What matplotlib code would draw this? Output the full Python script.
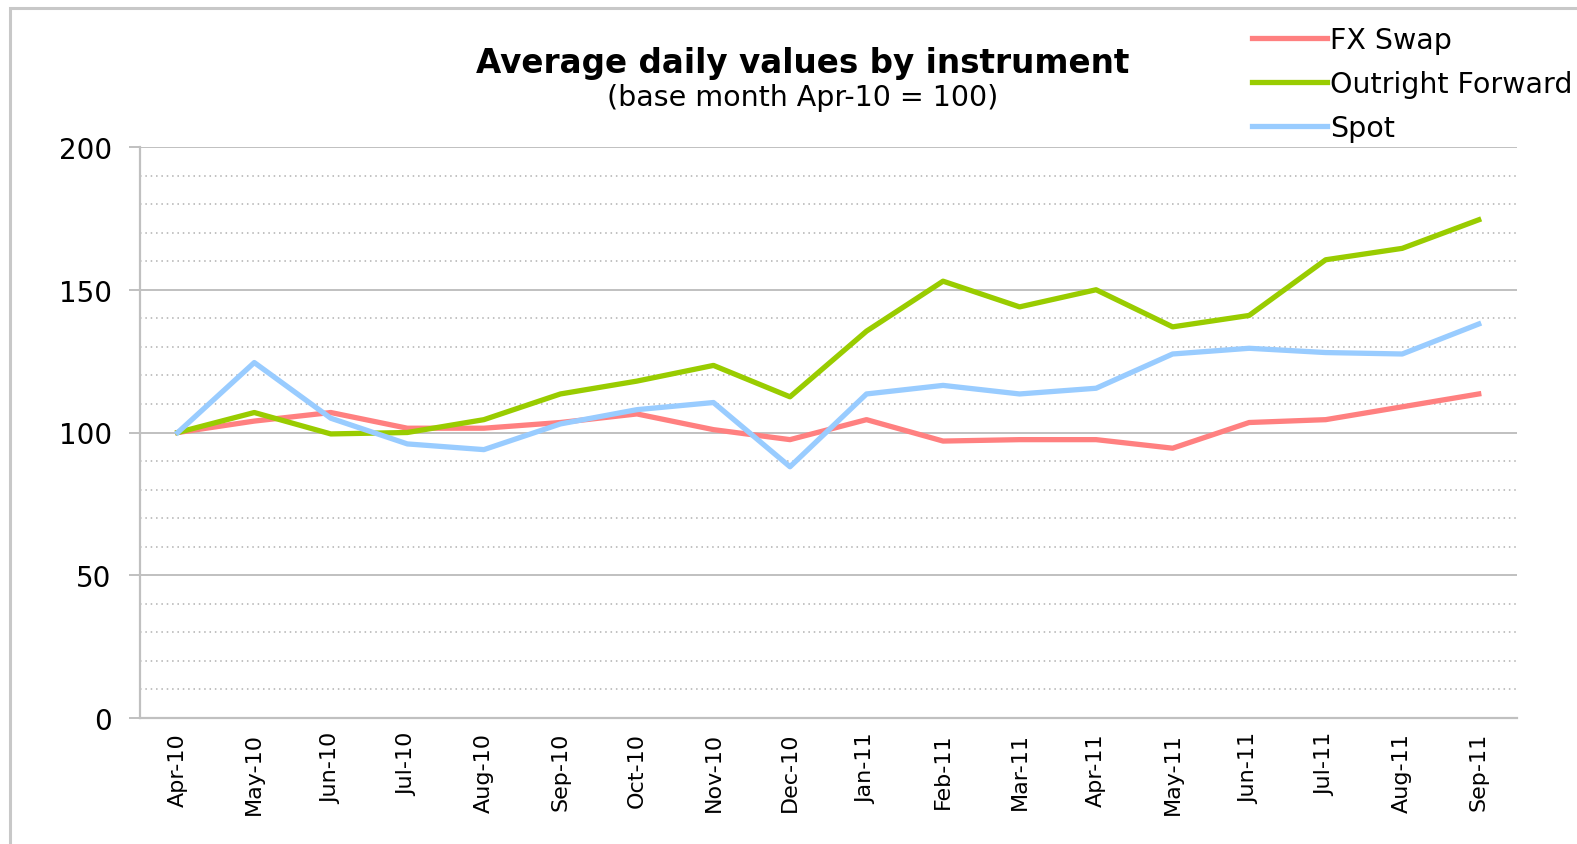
import matplotlib.pyplot as plt
import matplotlib.patches as mpatches
from matplotlib.ticker import MultipleLocator

months = ["Apr-10", "May-10", "Jun-10", "Jul-10", "Aug-10", "Sep-10", "Oct-10",
          "Nov-10", "Dec-10", "Jan-11", "Feb-11", "Mar-11", "Apr-11", "May-11",
          "Jun-11", "Jul-11", "Aug-11", "Sep-11"]

fx_swap = [100, 104, 107, 101.5, 101.5, 103.5, 106.5, 101, 97.5, 104.5,
           97, 97.5, 97.5, 94.5, 103.5, 104.5, 109, 113.5]
outright_fwd = [100, 107, 99.5, 100, 104.5, 113.5, 118, 123.5, 112.5, 135.5,
                153, 144, 150, 137, 141, 160.5, 164.5, 174.5]
spot = [100, 124.5, 105, 96, 94, 103, 108, 110.5, 88, 113.5,
        116.5, 113.5, 115.5, 127.5, 129.5, 128, 127.5, 138]

plt.rcParams['font.family'] = ['DejaVu Sans']
W, H = 1577, 845
fig = plt.figure(figsize=(W / 100, H / 100), dpi=100)
ax = fig.add_axes([139.5 / W, 1 - 719 / H, (1517 - 139.5) / W, (719 - 148) / H])

x = list(range(len(months)))
l1, = ax.plot(x, fx_swap, color="#FF8080", lw=3.8, label="FX Swap")
l2, = ax.plot(x, outright_fwd, color="#99CC00", lw=3.8, label="Outright Forward")
l3, = ax.plot(x, spot, color="#99CCFF", lw=3.8, label="Spot")

ax.set_xlim(-0.5, len(months) - 0.5)
ax.set_ylim(0, 200)
ax.yaxis.set_major_locator(MultipleLocator(50))
ax.yaxis.set_minor_locator(MultipleLocator(10))
ax.grid(which="major", axis="y", color="#C0C0C0", lw=1.4)
ax.grid(which="minor", axis="y", color="#B0B0B0", lw=1.1, linestyle=(0, (1, 2.5)))
ax.set_axisbelow(True)

ax.set_xticks(x)
ax.set_xticklabels(months, rotation=90, fontsize=16)
ax.tick_params(axis="x", length=0, pad=10)
ax.tick_params(axis="y", which="major", length=8, width=1.4, color="#C0C0C0", labelsize=20, pad=12)
ax.tick_params(axis="y", which="minor", length=0)

for s in ["top", "right"]:
    ax.spines[s].set_visible(False)
for s in ["left", "bottom"]:
    ax.spines[s].set_color("#C0C0C0")
    ax.spines[s].set_linewidth(1.6)

fig.text(803 / W, 1 - 63 / H, "Average daily values by instrument", ha="center", va="center",
         fontsize=23.5, fontweight="bold")
fig.text(803 / W, 1 - 98 / H, "(base month Apr-10 = 100)", ha="center", va="center", fontsize=20.5)

fig.legend(handles=[l1, l2, l3], loc="upper left", bbox_to_anchor=(1252 / W, 1 - 27 / H),
           frameon=False, fontsize=20.5, handlelength=2.65, handletextpad=0.1,
           labelspacing=0.56, borderaxespad=0, borderpad=0)

# outer chart frame (right and bottom edges fall outside the picture)
fig.patches.append(mpatches.Rectangle((10 / W, -0.1), 1.2, 1 - 9 / H + 0.1, transform=fig.transFigure,
                                      fill=False, edgecolor="#C8C8C8", lw=2.2))

fig.savefig("out.png", dpi=100)
